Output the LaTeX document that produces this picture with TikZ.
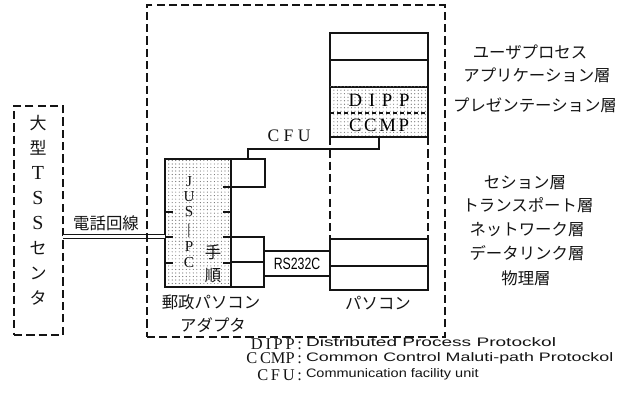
\documentclass[tikz,border=0pt]{standalone}
\usepackage{fontspec}
\usepackage{xcolor}
\usepackage{tikz}
\usetikzlibrary{positioning,patterns}
\newfontfamily\jpfont{Noto Sans CJK JP}
\newfontfamily\capsfont{Liberation Serif}
\newfontfamily\portfont[FakeStretch=0.75]{Liberation Sans}
\newfontfamily\legendwide[FakeStretch=1.55]{Liberation Sans}
\newfontfamily\legendfont[FakeStretch=1.45]{Liberation Sans}
\newfontfamily\legendnarrow[FakeStretch=1.18]{Liberation Sans}
\definecolor{PaperInk}{RGB}{20,20,20}
\definecolor{DotGray}{RGB}{110,110,110}

\begin{document}
\begin{tikzpicture}[
  x=0.03cm, y=-0.03cm,
  every node/.style={inner sep=0pt, outer sep=0pt},
  frame/.style={
    draw=PaperInk,
    line width=1.1pt,
    dash pattern=on 7pt off 3.5pt,
  },
  layer/.style={
    draw=PaperInk,
    line width=1.2pt,
    minimum width=2.94cm,
    font=\capsfont\fontsize{16}{18}\selectfont,
  },
  dotlayer/.style={
    layer,
    draw=none,
    pattern=dots,
    pattern color=DotGray,
  },
  port/.style={draw=PaperInk, line width=1.2pt},
  link/.style={draw=PaperInk, line width=1.2pt},
  jp/.style={font=\jpfont\fontsize{14}{16}\selectfont, text=PaperInk},
  caps/.style={font=\capsfont\fontsize{15}{16}\selectfont, text=PaperInk},
  letter/.style={font=\capsfont\fontsize{13}{13}\selectfont, text=PaperInk,
    text height=8.5pt, text depth=0pt},
  legkey/.style={font=\capsfont\fontsize{14}{14}\selectfont, text=PaperInk,
    anchor=east, text height=9.5pt, text depth=0pt},
  legtext/.style={font=\legendfont\fontsize{10.5}{12}\selectfont, text=PaperInk,
    anchor=west, text height=7.5pt, text depth=2pt},
]
  \useasboundingbox (0,0) rectangle (635,403);

  % host side
  \node[frame, minimum width=1.47cm, minimum height=6.87cm] (tss) at (38.5,220.5) {};
  \node[jp, align=center, font=\jpfont\fontsize{14.5}{21.3}\selectfont] (tsstext) at (38,210)
    {大\\型\\{\capsfont\fontsize{17}{21.3}\selectfont T}\\{\capsfont\fontsize{17}{21.3}\selectfont S}\\{\capsfont\fontsize{17}{21.3}\selectfont S}\\セ\\ン\\タ};

  % adapter
  \node[port, pattern=dots, pattern color=DotGray, minimum width=1.98cm, minimum height=3.84cm] (adp) at (198,223) {};
  \node[port, minimum width=1.02cm, minimum height=0.84cm] (cfuport) at (248,173) {};
  \node[port, minimum width=0.99cm, minimum height=1.5cm] (serport) at (247.5,262) {};
  \draw[link] (serport.west) -- (serport.east);
  \draw[link] (adp.east |- 0,187) -- ++(-8,0);
  \foreach \yy in {212,237,263} {
    \draw[link] (adp.west |- 0,\yy) -- ++(8,0);
    \draw[link] (adp.east |- 0,\yy) -- ++(-8,0);
  }
  \foreach \ch/\yy [count=\i] in {J/182, U/197, S/212, |/229.5, P/247, C/263}
    \node[letter] (jus\i) at (189,\yy) {\ch};
  \node[jp, align=center, font=\jpfont\fontsize{14}{19.5}\selectfont] (tejun) at (213,263.5) {手\\順};
  \node[jp] (adpname) at (211,302) {郵政パソコン};
  \node[jp] (adpname2) at (213,325) {アダプタ};

  % personal computer
  \node[layer, minimum height=0.81cm] (user) at (379,46.5) {};
  \node[layer, minimum height=0.81cm, below=0pt of user] (app) {};
  \node[dotlayer, minimum height=0.78cm, below=0pt of app] (dipp) {D\hspace{0.36em}I\hspace{0.36em}P\hspace{0.36em}P};
  \node[dotlayer, minimum height=0.72cm, below=0pt of dipp] (ccmp) {C\hspace{0.14em}C\hspace{0.14em}M\hspace{0.14em}P};
  \draw[link] (dipp.north west) -- (ccmp.south west) -- (ccmp.south east) -- (dipp.north east);
  \draw[PaperInk, line width=1pt, dashed] (dipp.south west) -- (dipp.south east);
  \node[layer, minimum height=0.81cm] (dlink) at (379,252.5) {};
  \node[layer, minimum height=0.72cm, below=0pt of dlink] (phys) {};
  \draw[frame] (ccmp.south west) -- (dlink.north west);
  \draw[frame] (ccmp.south east) -- (dlink.north east);
  \node[jp] (pcname) at (378,303) {パソコン};

  \node[port, minimum width=1.98cm, minimum height=0.75cm, font=\portfont\fontsize{14}{16}\selectfont] (rs) at (297,263.5) {RS232C};

  % connections
  \coordinate (telY) at (0,236.5);
  \draw[link, line width=0.9pt, double=white, double distance=2pt] (tss.east |- telY) -- (adp.west |- telY);
  \node[jp] (tel) at (106,223) {電話回線};
  \draw[link] (cfuport.north) -- ++(0,-10) -| (ccmp.south);
  \node[caps] (cfulabel) at (289,136) {C F U};

  % equipment frame
  \node[frame, minimum width=8.94cm, minimum height=9.96cm] (sys) at (296,171) {};

  % OSI layers
  \node[jp] (lUser) at (530,52) {ユーザプロセス};
  \node[jp] (lApp) at (537,75) {アプリケーション層};
  \node[jp] (lPres) at (535,105) {プレゼンテーション層};
  \node[jp] (lSess) at (525,183) {セション層};
  \node[jp] (lTrans) at (528,205) {トランスポート層};
  \node[jp] (lNet) at (527,230) {ネットワーク層};
  \node[jp] (lLink) at (527,253) {データリンク層};
  \node[jp] (lPhys) at (526,278) {物理層};

  % legend
  \node[legkey] (kDipp) at (302,343.5) {D\,I\,P\,P\,:};
  \node[legtext, font=\legendwide\fontsize{10.5}{12}\selectfont] (tDipp) at (306,343.5) {Distributed Process Protockol};
  \node[legkey] (kCcmp) at (302,358) {C\,CMP\,:};
  \node[legtext] (tCcmp) at (306,358) {Common Control Maluti-path Protockol};
  \node[legkey] (kCfu) at (302,374.5) {C\,F\,U\,:};
  \node[legtext, font=\legendnarrow\fontsize{10.5}{12}\selectfont] (tCfu) at (306,374.5) {Communication facility unit};
\end{tikzpicture}
\end{document}
